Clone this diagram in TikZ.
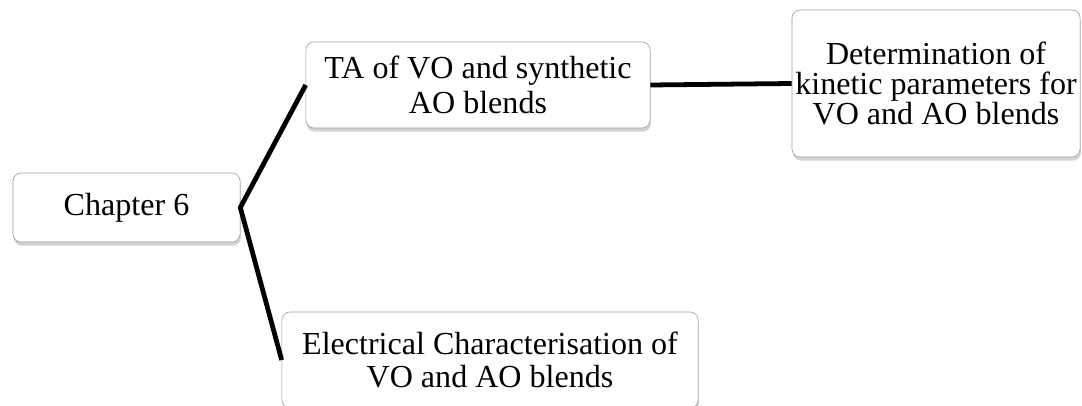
\documentclass[tikz,border=0pt]{standalone}
\usepackage{fontspec}
\setmainfont{Liberation Serif}
\usetikzlibrary{shadows}

\begin{document}
\begin{tikzpicture}[x=0.025cm,y=-0.025cm]

	\tikzstyle topic box=[draw=black!40, fill=white, rounded corners=0.2cm, inner sep=0pt, align=center,
		font=\fontsize{22.8}{24.9}\selectfont,
		drop shadow={shadow xshift=0.02cm, shadow yshift=-0.09cm, fill=black!50, opacity=0.35}];
	\tikzstyle branch lines=[line width=3.4pt];

	\useasboundingbox (0,0) rectangle (1082,406);

	\node[topic box, minimum width=5.675cm, minimum height=1.725cm] (chapter) at (126.5,207.5) {Chapter 6};
	\node[topic box, minimum width=8.6cm, minimum height=2.15cm] (ta) at (478,85) {TA of VO and synthetic\\AO blends};
	\node[topic box, minimum width=7.2cm, minimum height=3.675cm, font=\fontsize{22.8}{21.3}\selectfont] (kinetic) at (936,83.5)
		{Determination of\\kinetic parameters for\\VO and AO blends};
	\node[topic box, minimum width=10.4cm, minimum height=2.4cm, font=\fontsize{22.8}{23.4}\selectfont] (electrical) at (490,360)
		{Electrical Characterisation of\\VO and AO blends};

	\draw[branch lines] (ta.west) -- (chapter.east) -- (electrical.west);
	\draw[branch lines] (ta.east) -- (kinetic.west);

\end{tikzpicture}
\end{document}
